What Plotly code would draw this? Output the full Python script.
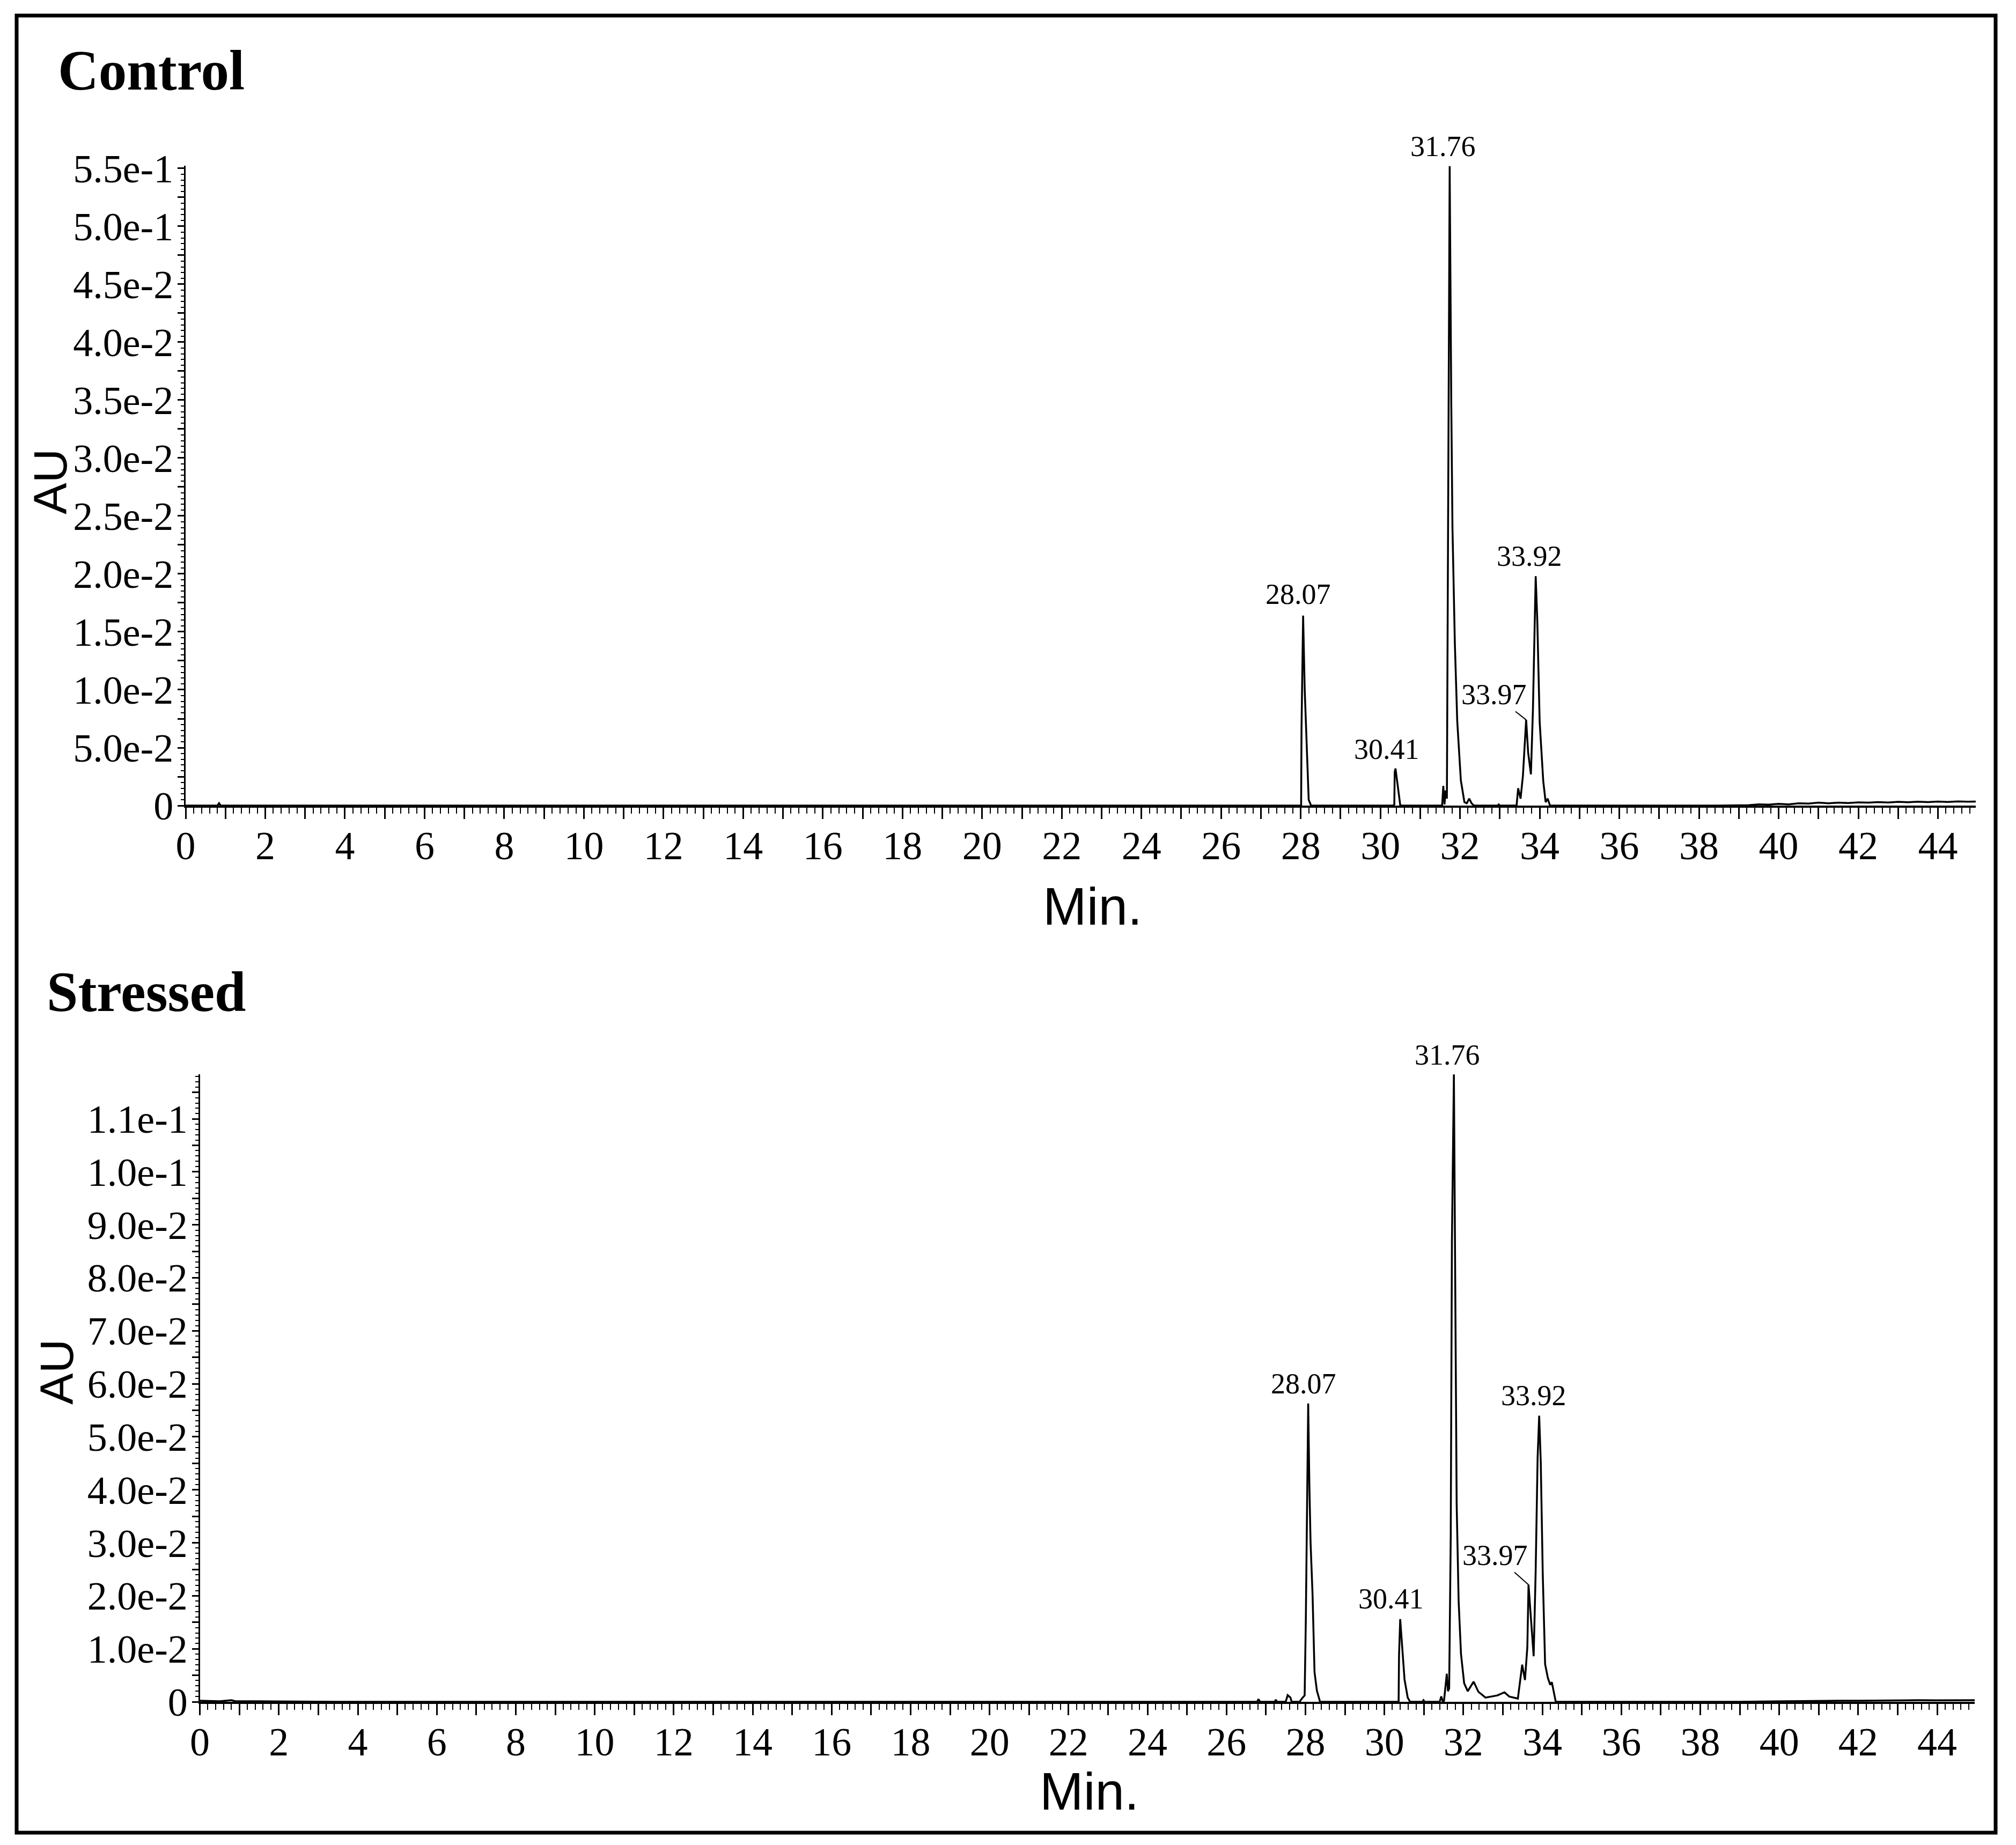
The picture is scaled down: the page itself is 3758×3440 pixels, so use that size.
import plotly.graph_objects as go

W, H = 3758, 3440

# ---------------- data ----------------
ctrl_t = [0.0, 0.80, 0.84, 0.88, 1.5, 10.0, 20.0, 27.9, 28.01, 28.02, 28.06, 28.10, 28.14, 28.20, 28.26,
          30.33, 30.35, 30.36, 30.38, 30.44, 30.50,
          31.55, 31.58, 31.61, 31.64, 31.67, 31.70, 31.74, 31.78, 31.81, 31.87, 31.93, 32.02, 32.11,
          32.17, 32.23, 32.29, 32.35, 32.95, 32.97, 33.00,
          33.42, 33.46, 33.52, 33.58, 33.66, 33.71, 33.78, 33.83, 33.87, 33.90, 33.94, 34.00, 34.09,
          34.15, 34.20, 34.26, 38.5, 38.75, 39.0, 39.25, 39.5, 39.75, 40.0, 40.25, 40.5, 40.75, 41.0,
          41.25, 41.5, 41.75, 42.0, 42.25, 42.5, 42.75, 43.0, 43.25, 43.5, 43.75, 44.0, 44.25, 44.5,
          44.75, 44.95]
ctrl_v = [0.0, 0.0, 0.0002, 0.0, 0.0, 0.0, 0.0, 0.0, 0.0, 0.0067, 0.0164, 0.0100, 0.0057, 0.0005, 0.0,
          0.0, 0.0001, 0.0029, 0.0032, 0.0015, 0.0,
          0.0, 0.0017, 0.0001, 0.0013, 0.0006, 0.0240, 0.0552, 0.0348, 0.0240, 0.0140, 0.0073, 0.0022, 0.0003,
          0.0002, 0.0006, 0.0002, 0.0, 0.0, 0.0001, 0.0,
          0.0, 0.0015, 0.0006, 0.0026, 0.0074, 0.0046, 0.0027, 0.0082, 0.0152, 0.0198, 0.0160, 0.0072, 0.0021,
          0.0003, 0.0006, 0.0, 0.0, 0.00002, 0.00005, 0.00003, 0.0001, 0.00008, 0.00015, 0.0001, 0.0002, 0.00017, 0.00025,
          0.0002, 0.00026, 0.00022, 0.00028, 0.00025, 0.0003, 0.00027, 0.00032, 0.00029, 0.00034, 0.0003, 0.00035, 0.00031, 0.00036,
          0.00033, 0.00035]

str_t = [0.0, 0.5, 0.8, 0.9, 1.5, 2.5, 3.5, 15.0, 26.78, 26.81, 26.85, 27.22, 27.25, 27.28, 27.50, 27.55, 27.62, 27.65,
         27.85, 27.92, 27.98, 28.01, 28.04, 28.07, 28.10, 28.13, 28.18, 28.23, 28.29, 28.37,
         30.36, 30.37, 30.40, 30.45, 30.51, 30.59, 30.65, 30.96, 30.99, 31.02,
         31.40, 31.44, 31.48, 31.51, 31.58, 31.61, 31.64, 31.68, 31.71, 31.76, 31.80, 31.83, 31.88, 31.94,
         32.02, 32.11, 32.26, 32.38, 32.56, 32.74, 32.86, 33.04, 33.16, 33.38, 33.49, 33.56, 33.62, 33.65,
         33.70, 33.74, 33.78, 33.83, 33.88, 33.92, 33.96, 34.01, 34.07, 34.14, 34.20, 34.24, 34.34,
         39.0, 39.5, 40.0, 40.5, 41.0, 41.5, 42.0, 42.5, 43.0, 43.5, 44.0, 44.5, 44.95]
str_v = [0.0002, 0.0001, 0.0003, 0.0001, 0.0001, 0.00005, 0.0, 0.0, 0.0, 0.0005, 0.0, 0.0, 0.0004, 0.0, 0.0, 0.00125, 0.0008, 0.0,
         0.0, 0.0007, 0.0012, 0.0156, 0.0326, 0.0563, 0.0408, 0.0300, 0.0203, 0.0056, 0.0021, 0.0,
         0.0, 0.0086, 0.0156, 0.0103, 0.0042, 0.0008, 0.0, 0.0, 0.0003, 0.0,
         0.0, 0.0010, 0.0, 0.0002, 0.0053, 0.0020, 0.0025, 0.0313, 0.0870, 0.1184, 0.0678, 0.0374, 0.0190, 0.0090,
         0.0035, 0.0020, 0.0038, 0.0019, 0.0008, 0.0010, 0.0012, 0.0018, 0.0010, 0.0006, 0.0070, 0.0041, 0.0103, 0.0221,
         0.0164, 0.0121, 0.0086, 0.0243, 0.0460, 0.0540, 0.0452, 0.0243, 0.0071, 0.0045, 0.0032, 0.0037, 0.0,
         0.0, 0.00005, 0.0001, 0.00012, 0.00015, 0.0002, 0.0002, 0.00025, 0.00024, 0.0003, 0.00028, 0.0003, 0.0003]

# peak labels: text, x (min), y (AU; None = above the axis top, placed in paper space)
ctrl_lab_text = ["28.07", "30.41", "31.76", "33.97", "33.92"]
ctrl_lab_x = [27.94, 30.16, 31.58, 32.85, 33.74]
ctrl_lab_y = [0.01824, 0.00486, None, 0.00958, 0.02153]
ctrl_top_label_py = 273          # pixel row of the label above the axis top
ctrl_lead_peak = (33.66, 0.0074)

str_lab_text = ["28.07", "30.41", "31.76", "33.97", "33.92"]
str_lab_x = [27.95, 30.17, 31.60, 32.81, 33.78]
str_lab_y = [0.0600, 0.01948, None, 0.02763, 0.05782]
str_top_label_py = 1967
str_lead_peak = (33.65, 0.0221)

x_ticks = list(range(0, 45))
x_text = [str(v) if v % 2 == 0 else "" for v in x_ticks]

ctrl_yticks = [i * 0.0025 for i in range(23)]
ctrl_ylabels = ["0", "5.0e-2", "1.0e-2", "1.5e-2", "2.0e-2", "2.5e-2", "3.0e-2",
                "3.5e-2", "4.0e-2", "4.5e-2", "5.0e-1", "5.5e-1"]
ctrl_ytext = [ctrl_ylabels[i // 2] if i % 2 == 0 else "" for i in range(23)]

str_yticks = [i * 0.005 for i in range(24)]
str_ylabels = ["0", "1.0e-2", "2.0e-2", "3.0e-2", "4.0e-2", "5.0e-2", "6.0e-2",
               "7.0e-2", "8.0e-2", "9.0e-2", "1.0e-1", "1.1e-1"]
str_ytext = [str_ylabels[i // 2] if i % 2 == 0 else "" for i in range(24)]

# ---------------- figure ----------------
SERIF = "Liberation Serif, Times New Roman, serif"
SANS = "Liberation Sans, Arial, sans-serif"

fig = go.Figure()
fig.add_trace(go.Scatter(x=ctrl_t, y=ctrl_v, mode="lines", line=dict(color="black", width=3.5),
                         xaxis="x", yaxis="y", showlegend=False, cliponaxis=False))
fig.add_trace(go.Scatter(x=str_t, y=str_v, mode="lines", line=dict(color="black", width=3.5),
                         xaxis="x2", yaxis="y2", showlegend=False, cliponaxis=False))


def xax(domain, anchor):
    return dict(domain=domain, anchor=anchor, range=[0, 44.95], tickmode="array",
                tickvals=x_ticks, ticktext=x_text, ticks="outside", ticklen=21, tickwidth=2.5,
                tickcolor="black", showline=True, linecolor="black", linewidth=3.5,
                showgrid=False, zeroline=False, ticklabelstandoff=-14,
                tickfont=dict(family=SERIF, size=74, color="black"),
                minor=dict(tick0=0, dtick=0.2, ticks="outside", ticklen=11, tickwidth=2,
                           tickcolor="black", showgrid=False))


def yax(domain, anchor, rng, vals, text, mdt):
    return dict(domain=domain, anchor=anchor, range=rng, tickmode="array",
                tickvals=vals, ticktext=text, ticks="outside", ticklen=12, tickwidth=2.5,
                tickcolor="black", showline=True, linecolor="black", linewidth=3,
                showgrid=False, zeroline=False, ticklabelstandoff=-7,
                tickfont=dict(family=SERIF, size=74, color="black"),
                minor=dict(tick0=0, dtick=mdt, ticks="outside", ticklen=6, tickwidth=2,
                           tickcolor="black", showgrid=False))


fig.update_layout(
    width=W, height=H, paper_bgcolor="white", plot_bgcolor="white",
    margin=dict(l=0, r=0, t=0, b=0, autoexpand=False),
    xaxis=xax([346 / W, 3683 / W], "y"),
    yaxis=yax([1 - 1502 / H, 1 - 309 / H], "x", [0, 0.05523], ctrl_yticks, ctrl_ytext, 0.0005),
    xaxis2=xax([372.6 / W, 3681 / W], "y2"),
    yaxis2=yax([1 - 3173 / H, 1 - 2002.5 / H], "x2", [0, 0.11847], str_yticks, str_ytext, 0.001),
)

ann = []
# panel titles
ann.append(dict(text="<b>Control</b>", x=106 / W, y=1 - 131 / H, xref="paper", yref="paper",
                xanchor="left", yanchor="middle", showarrow=False,
                font=dict(family=SERIF, size=105, color="black")))
ann.append(dict(text="<b>Stressed</b>", x=85 / W, y=1 - 1850 / H, xref="paper", yref="paper",
                xanchor="left", yanchor="middle", showarrow=False,
                font=dict(family=SERIF, size=105, color="black")))
# axis titles
for (xc, yc) in [(2036, 1690), (2030, 3340)]:
    ann.append(dict(text="Min.", x=xc / W, y=1 - yc / H, xref="paper", yref="paper",
                    xanchor="center", yanchor="middle", showarrow=False,
                    font=dict(family=SANS, size=98, color="black")))
for (xc, yc) in [(93, 898), (105, 2558)]:
    ann.append(dict(text="AU", x=xc / W, y=1 - yc / H, xref="paper", yref="paper",
                    xanchor="center", yanchor="middle", showarrow=False, textangle=-90,
                    font=dict(family=SANS, size=88, color="black")))

# peak labels
for texts, xs, ys, xr, yr, top_py in [(ctrl_lab_text, ctrl_lab_x, ctrl_lab_y, "x", "y", ctrl_top_label_py),
                                      (str_lab_text, str_lab_x, str_lab_y, "x2", "y2", str_top_label_py)]:
    for t, x, y in zip(texts, xs, ys):
        if y is None:
            ann.append(dict(text=t, x=x, y=1 - top_py / H, xref=xr, yref="paper",
                            xanchor="center", yanchor="middle", showarrow=False,
                            font=dict(family=SERIF, size=54, color="black")))
        else:
            ann.append(dict(text=t, x=x, y=y, xref=xr, yref=yr, xanchor="center", yanchor="middle",
                            showarrow=False, font=dict(family=SERIF, size=54, color="black")))

# leader lines for the 33.97 shoulder
for (px, py), lx, ly, xr, yr in [(ctrl_lead_peak, ctrl_lab_x[3], ctrl_lab_y[3], "x", "y"),
                                 (str_lead_peak, str_lab_x[3], str_lab_y[3], "x2", "y2")]:
    ann.append(dict(text="33.97", x=px, y=py, xref=xr, yref=yr, ax=lx, ay=ly, axref=xr, ayref=yr,
                    showarrow=True, arrowhead=0, arrowwidth=2, arrowcolor="black", standoff=0,
                    font=dict(family=SERIF, size=54, color="rgba(0,0,0,0)")))

fig.update_layout(annotations=ann)

# outer frame
fig.add_shape(type="rect", xref="paper", yref="paper", x0=31 / W, x1=3720 / W,
              y0=1 - 3417 / H, y1=1 - 29 / H, line=dict(color="black", width=7))

fig.write_html("out.html", config={"displayModeBar": False},
               post_script="document.body.style.margin='0px';document.body.style.padding='0px';")
